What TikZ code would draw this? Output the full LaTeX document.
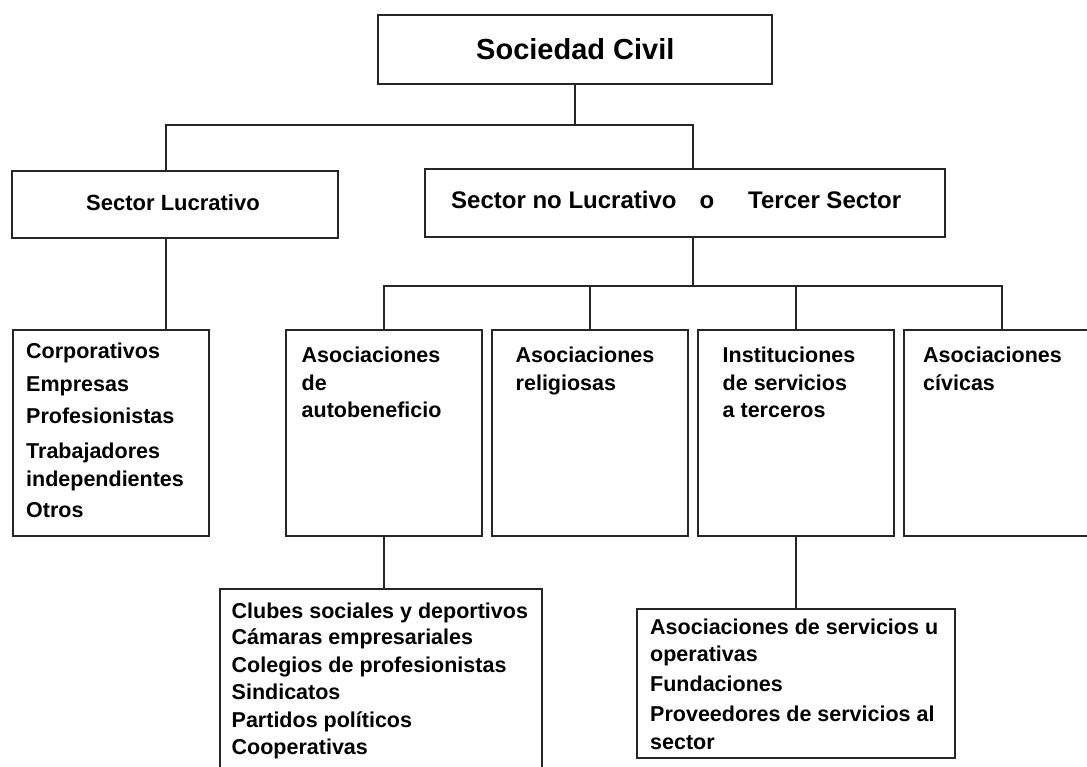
\documentclass[tikz,border=0pt]{standalone}
\usepackage{fontspec}
\setmainfont{Liberation Sans}
\begin{document}
\begin{tikzpicture}[x=1pt,y=-1pt,
  box/.style={draw=black!85, line width=1.8pt, inner sep=0pt, rectangle},
  con/.style={draw=black!85, line width=1.8pt},
  txt/.style={inner sep=0pt, anchor=base west, font=\bfseries\fontsize{21.5}{26}\selectfont},
]
\path[use as bounding box] (0,0) rectangle (1087,767);
\clip (0,0) rectangle (1087,767);
\fill[white] (0,0) rectangle (1087,767);

% boxes
\node[box, minimum width=394pt, minimum height=69pt] (soc) at (575,49.5) {};
\node[box, minimum width=326pt, minimum height=67pt] (luc) at (175,204.5) {};
\node[box, minimum width=520pt, minimum height=68pt] (snl) at (685,203) {};
\node[box, minimum width=196pt, minimum height=206pt] (corp) at (111,433) {};
\node[box, minimum width=196pt, minimum height=206pt] (A1) at (384,433) {};
\node[box, minimum width=196pt, minimum height=206pt] (A2) at (590,433) {};
\node[box, minimum width=196pt, minimum height=206pt] (A3) at (796,433) {};
\node[box, minimum width=196pt, minimum height=206pt] (A4) at (1002,433) {};
\node[box, minimum width=322pt, minimum height=201pt] (cl) at (381,689.5) {};
\node[box, minimum width=318pt, minimum height=149pt] (sv) at (796,683.5) {};

% bus coordinates
\coordinate (xL) at (166,0);
\coordinate (xR) at (693,0);
\coordinate (bus1) at (0,125);
\coordinate (bus2) at (0,286);

% connectors
\draw[con] (soc.south) -- (soc.south |- bus1);
\draw[con] (luc.north -| xL) -- (xL |- bus1) -- (xR |- bus1) -- (snl.north -| xR);
\draw[con] (luc.south -| xL) -- (corp.north -| xL);
\draw[con] (snl.south -| xR) -- (xR |- bus2);
\draw[con] (A1.north) -- (A1.north |- bus2) -- (A4.north |- bus2) -- (A4.north);
\draw[con] (A2.north) -- (A2.north |- bus2);
\draw[con] (A3.north) -- (A3.north |- bus2);
\draw[con] (A1.south) -- (A1.south |- cl.north);
\draw[con] (A3.south) -- (A3.south |- sv.north);

% texts
\node[txt, font=\bfseries\fontsize{29}{34}\selectfont] (tsoc) at (476,60) {Sociedad Civil};
\node[txt, font=\bfseries\fontsize{22}{26}\selectfont] (tluc) at (86,211) {Sector Lucrativo};
\node[txt, font=\bfseries\fontsize{24}{28}\selectfont] (tsnl) at (451,209) {Sector no Lucrativo\hspace{23pt}o\hspace{34pt}Tercer Sector};

\foreach \yy/\tx [count=\k] in {359/Corporativos, 391/Empresas, 423/Profesionistas, 458/Trabajadores, 486/independientes, 517/Otros}
  \node[txt] (tc\k) at (26,\yy) {\tx};
\foreach \yy/\tx [count=\k] in {362/Asociaciones, 390/de, 417/autobeneficio}
  \node[txt] (ta\k) at (301.5,\yy) {\tx};
\foreach \yy/\tx [count=\k] in {362/Asociaciones, 390/religiosas}
  \node[txt] (tb\k) at (515.5,\yy) {\tx};
\foreach \yy/\tx [count=\k] in {362/Instituciones, 390/de servicios, 417/a terceros}
  \node[txt] (ti\k) at (722.5,\yy) {\tx};
\foreach \yy/\tx [count=\k] in {362/Asociaciones, 390/cívicas}
  \node[txt] (tv\k) at (923,\yy) {\tx};
\foreach \yy/\tx [count=\k] in {618/Clubes sociales y deportivos, 644.5/Cámaras empresariales, 672.5/Colegios de profesionistas, 699.5/Sindicatos, 727/Partidos políticos, 754/Cooperativas}
  \node[txt] (tk\k) at (231.5,\yy) {\tx};
\foreach \yy/\tx [count=\k] in {634.5/Asociaciones de servicios u, 661/operativas, 691.5/Fundaciones, 721/Proveedores de servicios al, 749/sector}
  \node[txt] (ts\k) at (650,\yy) {\tx};
\end{tikzpicture}
\end{document}
